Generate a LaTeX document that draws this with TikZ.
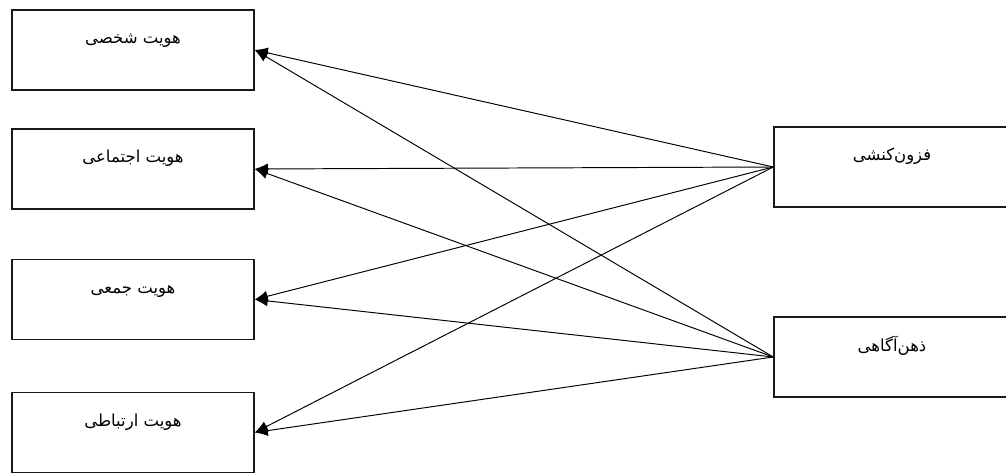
\documentclass[tikz,border=0pt]{standalone}
\usepackage{fontspec}
\newfontfamily\arabicfont[Script=Arabic]{DejaVu Sans}
\TeXXeTstate=1
\usetikzlibrary{arrows.meta,positioning}
\definecolor{boxline}{HTML}{1A1A1A}
\tikzset{
  varbox/.style={draw=boxline,line width=0.9pt,rectangle,
    minimum width=4.84cm,minimum height=1.6cm,
    inner ysep=0.15cm,text height=0.53cm,text depth=0.77cm,
    font=\arabicfont\fontsize{9.4}{11}\selectfont},
  link/.style={line width=0.55pt,-{Latex[length=2.6mm,width=2.2mm]}}
}
\newcommand{\fa}[1]{\beginR #1\endR}

\begin{document}
\begin{tikzpicture}[x=0.02cm,y=0.02cm]
  \useasboundingbox (0,0) rectangle (1006,473);
  % identity boxes on the left
  \node[varbox] (shakhsi) at (133,423) {\fa{هویت شخصی}};
  \node[varbox] (ejtemai) at (133,304) {\fa{هویت اجتماعی}};
  \node[varbox] (jamei) at (133,173.5) {\fa{هویت جمعی}};
  \node[varbox] (ertebati) at (133,40.5) {\fa{هویت ارتباطی}};
  % predictors on the right
  \node[varbox,minimum width=4.72cm] (fozun) at (892,306) {\fa{فزون‌کنشی}};
  \node[varbox,minimum width=4.72cm] (zehn) at (892,116) {\fa{ذهن‌آگاهی}};
  \foreach \src in {fozun,zehn} {
    \foreach \dst in {shakhsi,ejtemai,jamei,ertebati}
      \draw[link] (\src.west) -- (\dst.east);
  }
\end{tikzpicture}
\end{document}
